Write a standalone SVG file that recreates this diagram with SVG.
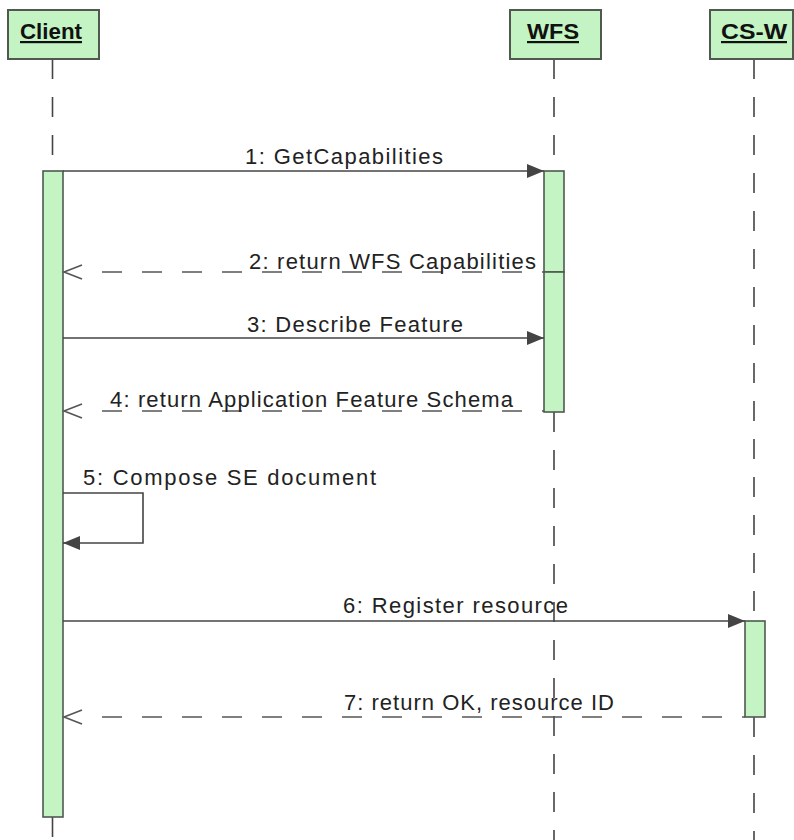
<svg xmlns="http://www.w3.org/2000/svg" width="794" height="840" viewBox="0 0 794 840">
  <style>
    .head { fill: #c4f4c4; stroke: #505850; stroke-width: 2; }
    .act { fill: #c4f4c4; stroke: #505850; stroke-width: 1.6; }
    .life { stroke: #444; stroke-width: 1.6; stroke-dasharray: 20 18; fill: none; }
    .msg { stroke: #444; stroke-width: 1.6; fill: none; }
    .ret { stroke: #555; stroke-width: 1.6; fill: none; stroke-dasharray: 20 20; }
    .open { stroke: #555; stroke-width: 1.6; fill: none; }
    .headtxt { font-family: "Liberation Sans", Arial, sans-serif; font-weight: bold; font-size: 22px; fill: #111; text-decoration: underline; }
    .lbl { font-family: "Liberation Sans", Arial, sans-serif; font-size: 22px; fill: #222; }
  </style>
  <defs>
    <marker id="solidHead" viewBox="0 0 17 14" refX="17" refY="7" markerWidth="17" markerHeight="14" markerUnits="userSpaceOnUse" orient="auto">
      <path d="M0,0 L17,7 L0,14 Z" fill="#444"/>
    </marker>
  </defs>

  <rect width="794" height="840" fill="#ffffff"/>

  <!-- lifelines -->
  <g id="lifelines">
    <line class="life" x1="52.5" y1="59" x2="52.5" y2="171"/>
    <line class="life" x1="52.5" y1="817" x2="52.5" y2="840"/>
    <line class="life" x1="554" y1="59" x2="554" y2="171"/>
    <line class="life" x1="554" y1="412" x2="554" y2="840"/>
    <line class="life" x1="754" y1="59" x2="754" y2="621"/>
    <line class="life" x1="754" y1="717" x2="754" y2="840"/>
  </g>

  <!-- participants -->
  <g id="client">
    <rect class="head" x="8" y="10" width="91" height="49"/>
    <text class="headtxt" x="20" y="39" textLength="62" lengthAdjust="spacingAndGlyphs">Client</text>
    <rect class="act" x="43" y="171" width="20" height="646"/>
  </g>
  <g id="wfs">
    <rect class="head" x="510" y="10" width="91" height="49"/>
    <text class="headtxt" x="527" y="39" textLength="52" lengthAdjust="spacingAndGlyphs">WFS</text>
    <rect class="act" x="544" y="171" width="20" height="101"/>
    <rect class="act" x="544" y="272" width="20" height="140"/>
  </g>
  <g id="csw">
    <rect class="head" x="710" y="10" width="83" height="49"/>
    <text class="headtxt" x="721" y="39" textLength="66" lengthAdjust="spacingAndGlyphs">CS-W</text>
    <rect class="act" x="745" y="621" width="20" height="96"/>
  </g>

  <!-- messages -->
  <g id="connectors">
    <!-- 1 -->
    <line class="msg" x1="63" y1="171" x2="544" y2="171" marker-end="url(#solidHead)"/>
    <!-- 2 -->
    <line class="ret" x1="102" y1="272" x2="544" y2="272"/>
    <path class="open" d="M82,265 L64,272 L82,279"/>
    <!-- 3 -->
    <line class="msg" x1="63" y1="338" x2="544" y2="338" marker-end="url(#solidHead)"/>
    <!-- 4 -->
    <line class="ret" x1="102" y1="411" x2="544" y2="411"/>
    <path class="open" d="M82,404 L64,411 L82,418"/>
    <!-- 5 self call -->
    <path class="msg" d="M63,493 L143,493 L143,543 L63,543" marker-end="url(#solidHead)"/>
    <!-- 6 -->
    <line class="msg" x1="63" y1="621" x2="745" y2="621" marker-end="url(#solidHead)"/>
    <!-- 7 -->
    <line class="ret" x1="102" y1="717" x2="745" y2="717"/>
    <path class="open" d="M82,710 L64,717 L82,724"/>
  </g>

  <!-- message labels -->
  <g id="labels">
    <text class="lbl" x="245" y="164" textLength="198" lengthAdjust="spacing">1: GetCapabilities</text>
    <text class="lbl" x="249" y="269" textLength="287" lengthAdjust="spacing">2: return WFS Capabilities</text>
    <text class="lbl" x="247" y="332" textLength="216" lengthAdjust="spacing">3: Describe Feature</text>
    <text class="lbl" x="110" y="407" textLength="403" lengthAdjust="spacing">4: return Application Feature Schema</text>
    <text class="lbl" x="83" y="485" textLength="293" lengthAdjust="spacing">5: Compose SE document</text>
    <text class="lbl" x="343" y="613" textLength="225" lengthAdjust="spacing">6: Register resource</text>
    <text class="lbl" x="344" y="710" textLength="270" lengthAdjust="spacing">7: return OK, resource ID</text>
  </g>
</svg>
